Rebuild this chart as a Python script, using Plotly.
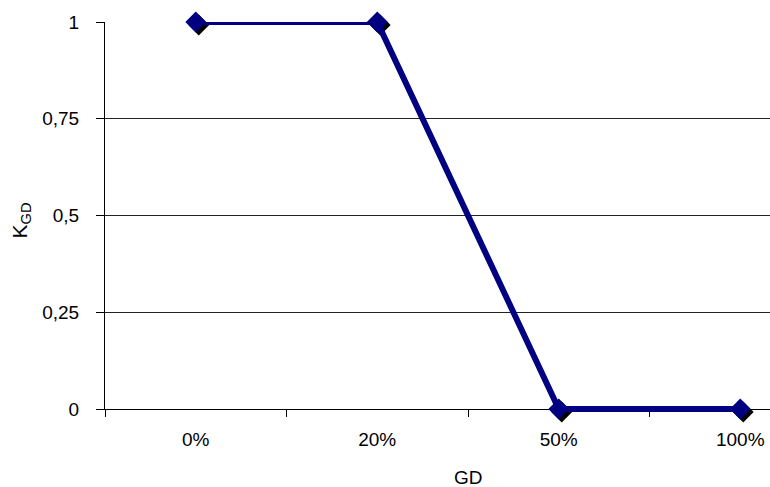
import plotly.graph_objects as go

# Data: coefficient K_GD against GD share
categories = ["0%", "20%", "50%", "100%"]
k_gd = [1, 1, 0, 0]
y_ticks = [0, 0.25, 0.5, 0.75, 1]

W, H = 770, 487
ML, MR, MT, MB = 105, 0, 22, 68
CAT_PX = 181.5          # pixel width of one category slot
Y_PX = 387              # pixel height of the [0, 1] value range
PAD_PX = 10             # extra room below zero so the thick line is not cut
SHADOW_PX = 3

plot_w = W - ML - MR
plot_h = H - MT - MB
x_range = [-0.5, -0.5 + plot_w / CAT_PX]
y_dom0 = PAD_PX / plot_h
y_range_ext = [-PAD_PX / Y_PX, 1]

navy = "#000080"
font = dict(family="Liberation Sans, Arial, sans-serif", size=19, color="black")

fig = go.Figure()

# drop shadow under the markers
fig.add_trace(go.Scatter(
    x=categories, y=k_gd, mode="markers",
    marker=dict(symbol="diamond", size=16, color="black", line=dict(width=0)),
    xaxis="x2", yaxis="y2", cliponaxis=False, hoverinfo="skip", showlegend=False,
))
# main series
fig.add_trace(go.Scatter(
    x=categories, y=k_gd, mode="lines+markers",
    line=dict(color=navy, width=6),
    marker=dict(symbol="diamond", size=16, color=navy, line=dict(width=0)),
    xaxis="x3", yaxis="y3", cliponaxis=False, showlegend=False,
))

hidden = dict(visible=False, showgrid=False, zeroline=False, fixedrange=True)
dx = SHADOW_PX / CAT_PX
dy = SHADOW_PX / Y_PX

fig.update_layout(
    width=W, height=H,
    margin=dict(l=ML, r=MR, t=MT, b=MB),
    paper_bgcolor="white", plot_bgcolor="rgba(0,0,0,0)",
    separators=",.",
    font=font,
    showlegend=False,
    xaxis=dict(
        type="category", categoryorder="array", categoryarray=categories,
        range=x_range, domain=[0, 1], anchor="y",
        showline=True, linecolor="black", linewidth=1,
        ticks="outside", tickson="boundaries", ticklen=7, tickcolor="black", tickwidth=1,
        showgrid=False, zeroline=False,
        tickfont=font, ticklabelstandoff=13,
    ),
    yaxis=dict(
        range=[0, 1], domain=[y_dom0, 1], anchor="x",
        tickvals=y_ticks, tickformat="~g",
        showline=True, linecolor="black", linewidth=1,
        ticks="outside", ticklen=8, tickcolor="black", tickwidth=1,
        showgrid=True, gridcolor="#222", gridwidth=1, zeroline=False,
        tickfont=font, ticklabelstandoff=13,
    ),
    xaxis2=dict(hidden, type="category", categoryorder="array", categoryarray=categories,
                range=[x_range[0] - dx, x_range[1] - dx], anchor="y2", domain=[0, 1]),
    yaxis2=dict(hidden, range=[y_range_ext[0] + dy, y_range_ext[1] + dy],
                anchor="x2", domain=[0, 1]),
    xaxis3=dict(hidden, type="category", categoryorder="array", categoryarray=categories,
                range=x_range, anchor="y3", domain=[0, 1]),
    yaxis3=dict(hidden, range=y_range_ext, anchor="x3", domain=[0, 1]),
    annotations=[
        dict(text="GD", xref="x", yref="paper", x=1.5, y=0, yshift=-58,
             showarrow=False, font=font, xanchor="center", yanchor="middle"),
        dict(text="K<sub>GD</sub>", xref="paper", yref="y", x=0, xshift=-85, y=0.5,
             yshift=-5, textangle=-90, showarrow=False, font=dict(font, size=21),
             xanchor="center", yanchor="middle"),
    ],
)

fig.write_html("out.html")
